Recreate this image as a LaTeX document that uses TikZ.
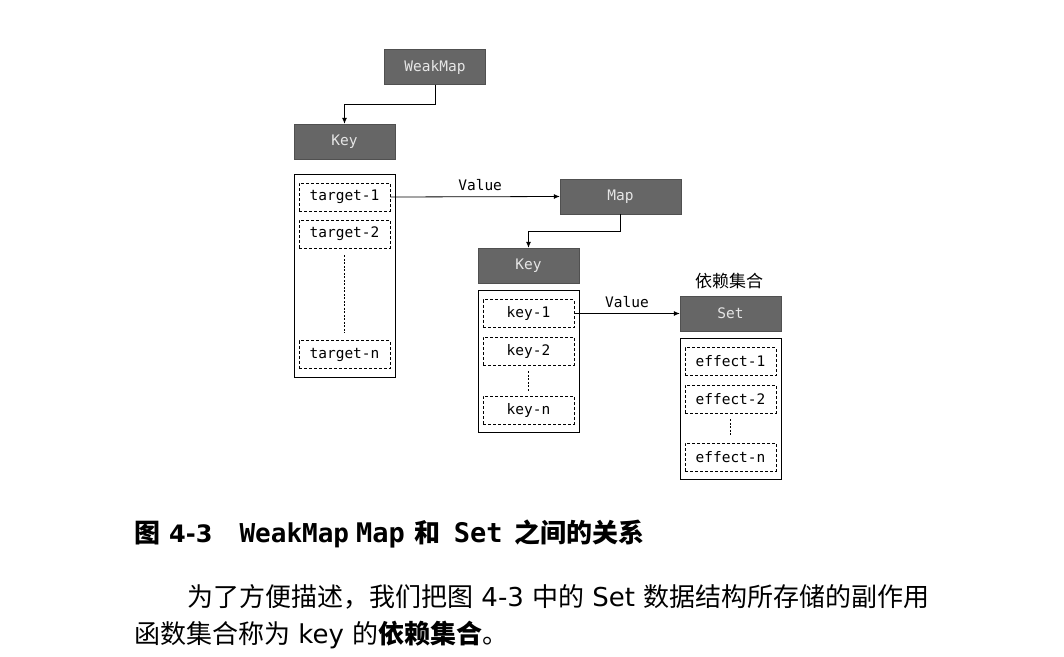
\documentclass[tikz,border=0pt]{standalone}
\usepackage{fontspec}
\setmonofont{DejaVu Sans Mono}
\newfontfamily\cjk{Noto Sans CJK SC}
\newfontfamily\latinsans{DejaVu Sans}
\usetikzlibrary{arrows.meta,calc}
\definecolor{boxgray}{RGB}{102,102,102}
\definecolor{boxline}{RGB}{80,80,80}
\definecolor{boxtext}{RGB}{230,230,230}
\tikzset{
  graybox/.style={draw=boxline,fill=boxgray,text=boxtext,minimum width=101pt,minimum height=35pt,inner sep=0pt,font=\fontsize{14.5}{14.5}\selectfont\ttfamily},
  holder/.style={draw,line width=0.8pt,minimum width=101pt,inner sep=0pt},
  entry/.style={draw,densely dashed,line width=0.6pt,minimum width=91pt,minimum height=28pt,inner sep=0pt,font=\fontsize{14.5}{14.5}\selectfont\ttfamily},
  link/.style={draw,line width=0.8pt,-{Latex[length=6pt,width=5pt]}},
  dots/.style={line width=0.6pt,dash pattern=on 2pt off 1.5pt},
  vlabel/.style={font=\fontsize{14.5}{14.5}\selectfont\ttfamily},
  textline/.style={anchor=base west,inner sep=0pt,font=\fontsize{26}{26}\selectfont}
}
\newcommand{\zh}[1]{{\cjk #1}}
\newcommand{\lat}[1]{{\latinsans #1}}
\begin{document}
\begin{tikzpicture}[x=1pt,y=-1pt]
  \useasboundingbox (0,0) rectangle (1064,656);
  % first level
  \node[graybox] (weakmap) at (435,67) {WeakMap};
  \node[graybox] (key1) at (344.5,141.5) {Key};
  \node[holder,minimum height=203pt] (targets) at (344.5,275.5) {};
  \node[entry] (t1) at (344.5,197) {target-1};
  \node[entry] (t2) at (344.5,234) {target-2};
  \node[entry] (tn) at (344.5,354.5) {target-n};
  \draw[dots] ($(t2.south)+(0,7)$) -- ($(tn.north)+(0,-7)$);
  % second level
  \node[graybox,minimum width=121pt] (map) at (620.5,196.5) {Map};
  \node[graybox] (key2) at (528.5,265.5) {Key};
  \node[holder,minimum height=142pt] (keys) at (528.5,361) {};
  \node[entry] (k1) at (528.5,313.5) {key-1};
  \node[entry] (k2) at (528.5,351) {key-2};
  \node[entry] (kn) at (528.5,410) {key-n};
  \draw[dots] ($(k2.south)+(0,6)$) -- ($(kn.north)+(0,-4)$);
  % third level
  \node[font=\fontsize{17}{17}\selectfont\cjk] (deps) at (729,281) {依赖集合};
  \node[graybox] (set) at (730.5,313.5) {Set};
  \node[holder,minimum height=141pt] (effects) at (730.5,408.5) {};
  \node[entry] (e1) at (730.5,361.5) {effect-1};
  \node[entry] (e2) at (730.5,399) {effect-2};
  \node[entry] (en) at (730.5,457) {effect-n};
  \draw[dots] ($(e2.south)+(0,6)$) -- ($(en.north)+(0,-6)$);
  % connectors
  \draw[link] (weakmap.south) |- ++(0,20) -| (key1.north);
  \draw[link] (map.south) |- ++(0,17) -| (key2.north);
  \draw[link] (t1.east) -- node[vlabel,above=2pt,pos=0.53] (v1) {Value} (map.west);
  \draw[link] (k1.east) -- node[vlabel,above=2pt,pos=0.5] (v2) {Value} (set.west);
  % caption and text
  \node[textline,font=\fontsize{26}{26}\selectfont\bfseries] (cap) at (134,542)
    {\zh{图}\hspace{9pt}{\latinsans\fontsize{24}{24}\selectfont 4-3}\hspace{27pt}{\ttfamily WeakMap}\hspace{7pt}{\ttfamily\fontsize{27}{27}\selectfont Map}\hspace{10pt}\zh{和}\hspace{13pt}{\ttfamily\fontsize{27}{27}\selectfont Set}\hspace{12pt}\zh{之间的关系}};
  \node[textline] (line1) at (187,606)
    {\zh{为了方便描述，我们把图}\lat{ 4-3 }\zh{中的}\lat{ Set }\zh{数据结构所存储的副作用}};
  \node[textline] (line2) at (134,643)
    {\zh{函数集合称为}\lat{ key }\zh{的\textbf{依赖集合}。}};
\end{tikzpicture}
\end{document}
